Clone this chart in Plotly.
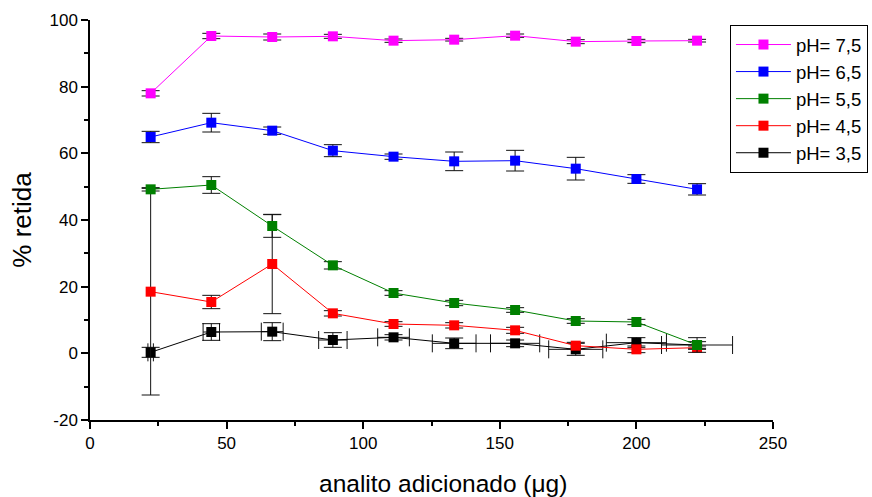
import plotly.graph_objects as go

x_ug = [22.2, 44.4, 66.7, 88.9, 111.1, 133.3, 155.6, 177.8, 200.0, 222.2]

ph75 = [78.0, 95.2, 94.9, 95.1, 93.8, 94.1, 95.3, 93.5, 93.7, 93.8]
ph75_err = [0.8, 0.8, 0.9, 0.6, 0.5, 0.4, 0.5, 0.6, 0.5, 0.4]

ph65 = [64.9, 69.2, 66.8, 60.8, 59.0, 57.6, 57.8, 55.4, 52.3, 49.2]
ph65_err = [1.7, 2.8, 1.1, 1.8, 0.8, 2.8, 3.1, 3.4, 1.3, 1.7]

ph55 = [49.2, 50.5, 38.2, 26.4, 18.1, 15.1, 13.0, 9.7, 9.4, 2.5]
ph55_err = [0.5, 2.5, 3.4, 1.1, 0.7, 0.8, 0.7, 0.7, 0.8, 2.2]

ph45 = [18.5, 15.4, 26.8, 12.0, 8.8, 8.4, 6.9, 2.3, 1.2, 1.7]
ph45_err = [31.0, 2.0, 14.9, 0.8, 0.7, 0.8, 0.9, 1.0, 1.0, 0.5]

ph35 = [0.3, 6.4, 6.5, 4.0, 4.8, 3.0, 3.0, 1.2, 3.2, 2.5]
ph35_err = [1.5, 2.5, 2.7, 2.2, 0.8, 1.6, 1.0, 1.8, 1.5, 1.0]
ph35_xerr = [1.0, 3.0, 4.0, 5.2, 5.8, 8.0, 9.0, 9.9, 11.0, 13.0]

y_ticks = [-20, 0, 20, 40, 60, 80, 100]
y_ticktext = ["-20", "0", "20", "40", "60", "80", "100"]
x_ticks = [0, 50, 100, 150, 200, 250]

FONT = "Liberation Sans, Arial, sans-serif"
ERRC = "#111111"

series = [
    ("pH= 3,5", ph35, ph35_err, "#000000"),
    ("pH= 4,5", ph45, ph45_err, "#FF0000"),
    ("pH= 5,5", ph55, ph55_err, "#008000"),
    ("pH= 6,5", ph65, ph65_err, "#0000FF"),
    ("pH= 7,5", ph75, ph75_err, "#FF00FF"),
]

fig = go.Figure()
for name, vals, err, col in series:
    kw = {}
    if name == "pH= 3,5":
        kw["error_x"] = dict(type="data", array=ph35_xerr, visible=True,
                             color=ERRC, thickness=1, width=9)
    fig.add_trace(go.Scatter(
        x=x_ug, y=vals, name=name, mode="lines+markers",
        line=dict(color=col, width=1),
        marker=dict(symbol="square", size=10, color=col, line=dict(width=0)),
        error_y=dict(type="data", array=err, visible=True,
                     color=ERRC, thickness=1, width=9),
        **kw,
    ))

fig.update_layout(
    width=872, height=497,
    margin=dict(l=90, r=99, t=20, b=77, autoexpand=False),
    paper_bgcolor="white", plot_bgcolor="white",
    font=dict(family=FONT, color="black", size=17),
    showlegend=True,
    legend=dict(
        x=0.937, y=0.9875, xanchor="left", yanchor="top",
        traceorder="reversed",
        bordercolor="black", borderwidth=1, bgcolor="white",
        font=dict(family=FONT, size=18.5, color="black"),
        itemwidth=55,
        tracegroupgap=0,
    ),
    xaxis=dict(
        range=[0, 250], tickvals=x_ticks, automargin=False,
        showline=True, linecolor="black", linewidth=1.5,
        ticks="outside", ticklen=7, tickwidth=1.5, tickcolor="black",
        minor=dict(ticks="outside", dtick=25, ticklen=4, tickwidth=1.5, tickcolor="black"),
        showgrid=False, zeroline=False,
        tickfont=dict(size=17),
    ),
    yaxis=dict(
        range=[-20, 100], tickvals=y_ticks, ticktext=y_ticktext, automargin=False,
        showline=True, linecolor="black", linewidth=1.5,
        ticks="outside", ticklen=7, tickwidth=1.5, tickcolor="black",
        minor=dict(ticks="outside", dtick=10, ticklen=4, tickwidth=1.5, tickcolor="black"),
        showgrid=False, zeroline=False,
        tickfont=dict(size=17),
        title=dict(text="% retida", font=dict(size=26), standoff=10),
    ),
    annotations=[dict(
        text="analito adicionado (μg)", xref="paper", yref="paper",
        x=0.517, y=-0.158, xanchor="center", yanchor="middle",
        showarrow=False, font=dict(family=FONT, size=24.5, color="black"),
    )],
)

fig.write_html("out.html")
